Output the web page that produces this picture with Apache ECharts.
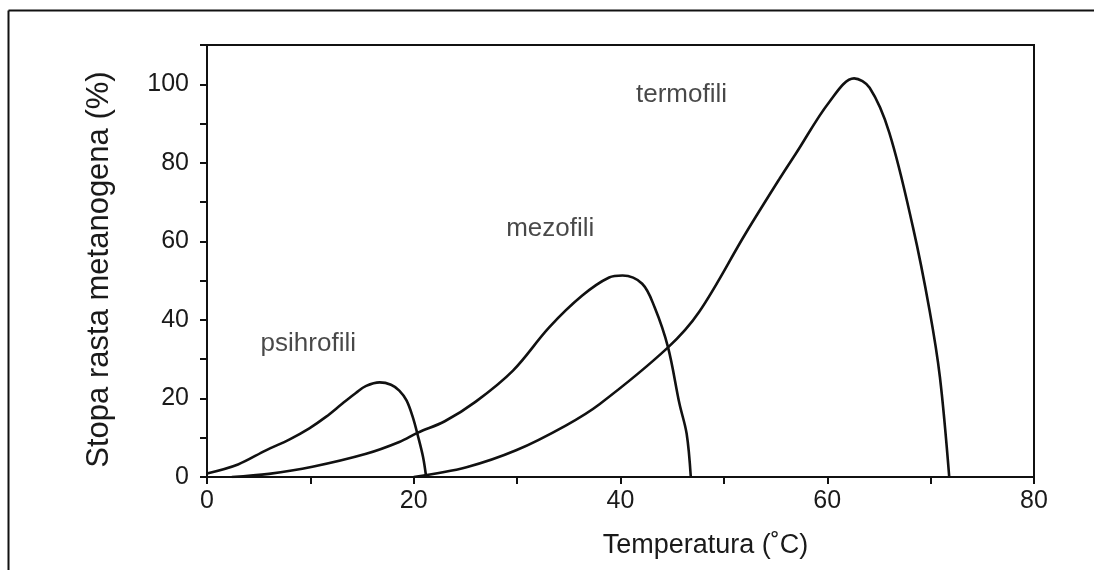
<!DOCTYPE html>
<html>
<head>
<meta charset="utf-8">
<script src="https://cdn.jsdelivr.net/npm/echarts@6/dist/echarts.min.js"></script>
<style>
  html, body { margin: 0; padding: 0; background: #fff; }
  #chart { width: 1094px; height: 570px; }
</style>
</head>
<body>
<div id="chart"></div>
<script>
// Temperature (°C) and relative growth rate (%) for each methanogen group
const psihrofiliT = [0, 3, 5.7, 8, 9.9, 11.5, 13.1, 14.4, 15.4, 16.7, 17.8, 18.6, 19.3, 19.9, 20.4, 20.9, 21.2];
const psihrofiliV = [0.9, 3.2, 6.8, 9.6, 12.4, 15.3, 18.7, 21.4, 23.2, 24.1, 23.5, 22, 19.5, 15.3, 10.5, 5.1, 0];

const mezofiliT = [2.4, 6, 10.2, 15.4, 18.6, 20.4, 23, 26, 29.6, 33.1, 36.3, 38.9, 40.2, 42.1, 43.3, 44.6, 45.7, 46.4, 46.8];
const mezofiliV = [0, 0.8, 2.6, 5.9, 8.9, 11.3, 14.2, 19.2, 27.1, 38.1, 46.2, 50.8, 51.3, 49.2, 43.2, 33, 18.7, 11, 0];

const termofiliT = [20, 25.1, 29.9, 34.7, 38, 44.6, 47.6, 52.1, 55.4, 57, 60.2, 62.6, 64.1, 66, 68.3, 69.9, 70.9, 71.8];
const termofiliV = [0, 2.5, 6.8, 13.1, 18.6, 33, 42, 62, 76, 82.5, 95.5, 101.5, 99.1, 87.7, 63.5, 42.4, 25.4, 0];

// Group names and where each is written (temperature, rate)
const groupNames = ['psihrofili', 'mezofili', 'termofili'];
const groupLabelAt = [[9.8, 33.8], [33.2, 63.3], [45.9, 97.3]];

const xTitle = 'Temperatura (˚C)';
const yTitle = 'Stopa rasta metanogena (%)';

const pairs = (xs, ys) => xs.map((x, i) => [x, ys[i]]);
const FONT = "'Liberation Sans', Arial, Helvetica, sans-serif";
const INK = '#111';

const curve = (name, xs, ys) => ({
  name,
  type: 'line',
  data: pairs(xs, ys),
  smooth: 0.35,
  showSymbol: false,
  symbol: 'none',
  silent: true,
  lineStyle: { color: INK, width: 2.6 },
  z: 3
});

const chart = echarts.init(document.getElementById('chart'), null, { renderer: 'canvas' });

chart.setOption({
  animation: false,
  backgroundColor: '#fff',
  grid: {
    left: 207, right: 60, top: 45, bottom: 93,
    show: true, borderColor: INK, borderWidth: 2, backgroundColor: 'transparent'
  },
  xAxis: {
    type: 'value', min: 0, max: 80, interval: 10,
    name: xTitle, nameLocation: 'middle', nameGap: 55,
    nameTextStyle: { fontFamily: FONT, fontSize: 27, color: '#1a1a1a', padding: [0, 0, 0, 170] },
    axisLine: { show: true, lineStyle: { color: INK, width: 2 } },
    axisTick: { show: true, inside: false, length: 7, lineStyle: { color: INK, width: 2 } },
    axisLabel: {
      margin: 12, fontFamily: FONT, fontSize: 25, color: '#1a1a1a',
      formatter: v => (v % 20 === 0 ? String(v) : '')
    },
    splitLine: { show: false }
  },
  yAxis: {
    type: 'value', min: 0, max: 110, interval: 10,
    name: yTitle, nameLocation: 'middle', nameGap: 92, nameRotate: 90,
    nameTextStyle: { fontFamily: FONT, fontSize: 31, color: '#1a1a1a', padding: [0, 17, 0, 0] },
    axisLine: { show: true, lineStyle: { color: INK, width: 2 } },
    axisTick: { show: true, inside: false, length: 7, lineStyle: { color: INK, width: 2 } },
    axisLabel: {
      margin: 18, fontFamily: FONT, fontSize: 25, color: '#1a1a1a',
      formatter: v => (v % 20 === 0 ? String(v) : '')
    },
    splitLine: { show: false }
  },
  series: [
    curve('psihrofili', psihrofiliT, psihrofiliV),
    curve('mezofili', mezofiliT, mezofiliV),
    curve('termofili', termofiliT, termofiliV),
    {
      name: 'groups',
      type: 'scatter',
      silent: true,
      symbolSize: 0,
      data: groupNames.map((n, i) => ({ name: n, value: groupLabelAt[i] })),
      label: {
        show: true, position: 'inside', formatter: p => p.name,
        fontFamily: FONT, fontSize: 26, color: '#1a1a1a',
        textBorderWidth: 0, align: 'center', verticalAlign: 'middle'
      },
      z: 4
    }
  ],
  graphic: [
    // page frame: top and left rules
    { type: 'line', shape: { x1: 8.5, y1: 10.5, x2: 1094, y2: 10.5 }, style: { stroke: INK, lineWidth: 2 }, silent: true },
    { type: 'line', shape: { x1: 8.5, y1: 10.5, x2: 8.5, y2: 570 }, style: { stroke: INK, lineWidth: 2 }, silent: true }
  ]
});
</script>
</body>
</html>
